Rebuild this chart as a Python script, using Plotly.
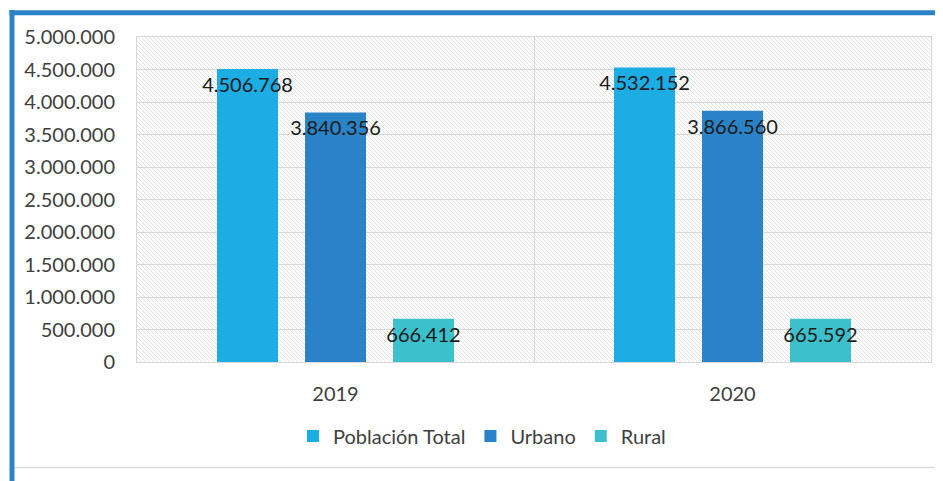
import base64
import plotly.graph_objects as go

categories = ["2019", "2020"]
series_names = ["Población Total", "Urbano", "Rural"]
poblacion_total = [4506768, 4532152]
urbano = [3840356, 3866560]
rural = [666412, 665592]
y_tickvals = [0, 500000, 1000000, 1500000, 2000000, 2500000, 3000000, 3500000, 4000000, 4500000, 5000000]

colors = ["#1BADE4", "#2A83C6", "#3CC0CC"]
FONT = "Lato"

fig = go.Figure()
for name, vals, col in zip(series_names, [poblacion_total, urbano, rural], colors):
    fig.add_trace(go.Bar(
        x=categories, y=vals, name=name, marker_color=col, marker_line_width=0,
        text=vals, texttemplate="%{y:,}", textposition="inside",
        insidetextanchor="end", textangle=0,
        insidetextfont=dict(family=FONT, size=20, color="#1a1a1a"),
    ))

# page has an 8px body margin; compensate
OFF = 8
W, H = 943 - OFF, 481 - OFF
L, R, T, B = 137 - OFF, 12, 37 - OFF, 119
pw, ph = W - L - R, H - T - B

svg = (f"<svg xmlns='http://www.w3.org/2000/svg' width='{pw}' height='{ph}'>"
       "<defs><pattern id='p' width='4' height='4' patternUnits='userSpaceOnUse'>"
       "<path d='M-1,-1 L5,5 M-1,3 L1,5 M3,-1 L5,1' stroke='#e0e0e0' stroke-width='0.9'/>"
       "</pattern></defs><rect width='100%' height='100%' fill='white'/>"
       "<rect width='100%' height='100%' fill='url(#p)'/></svg>")
src = "data:image/svg+xml;base64," + base64.b64encode(svg.encode()).decode()

def px_x(p):
    return (p - OFF - L) / pw

def px_y(p):
    return (H - B - (p - OFF)) / ph

fig.update_layout(
    width=W, height=H,
    margin=dict(l=L, r=R, t=T, b=B),
    paper_bgcolor="white", plot_bgcolor="white",
    separators=",.",
    barmode="group", bargap=0.335, bargroupgap=0.307,
    uniformtext=dict(minsize=20, mode="show"),
    font=dict(family=FONT, size=20, color="#404040"),
    showlegend=True,
    legend=dict(orientation="h", x=px_x(482), xanchor="center", y=px_y(436), yanchor="middle",
                font=dict(family=FONT, size=20, color="#404040"), itemwidth=30,
                bgcolor="rgba(0,0,0,0)"),
    xaxis=dict(type="category", tickson="boundaries", showgrid=True, gridcolor="#d9d9d9",
               showline=True, linecolor="#d9d9d9", mirror=True, ticks="",
               ticklabelstandoff=14, tickfont=dict(family=FONT, size=20, color="#404040")),
    yaxis=dict(range=[0, 5000000], tickvals=y_tickvals, tickformat=",d", showgrid=True,
               gridcolor="#d9d9d9", showline=True, linecolor="#d9d9d9", mirror=True,
               zeroline=False, ticks="", ticklabelstandoff=17,
               tickfont=dict(family=FONT, size=20, color="#404040")),
    images=[dict(source=src, xref="paper", yref="paper", x=0, y=1, sizex=1, sizey=1,
                 sizing="stretch", xanchor="left", yanchor="top", layer="below")],
    shapes=[
        dict(type="line", xref="paper", yref="paper", x0=px_x(12), x1=px_x(12),
             y0=px_y(10), y1=px_y(481), line=dict(color="#2A83C6", width=5)),
        dict(type="line", xref="paper", yref="paper", x0=px_x(9.5), x1=px_x(943),
             y0=px_y(12.8), y1=px_y(12.8), line=dict(color="#2A83C6", width=5)),
        dict(type="line", xref="paper", yref="paper", x0=px_x(15), x1=px_x(943),
             y0=px_y(467.5), y1=px_y(467.5), line=dict(color="#d9d9d9", width=1.5)),
    ],
)

fig.write_html("out.html")
